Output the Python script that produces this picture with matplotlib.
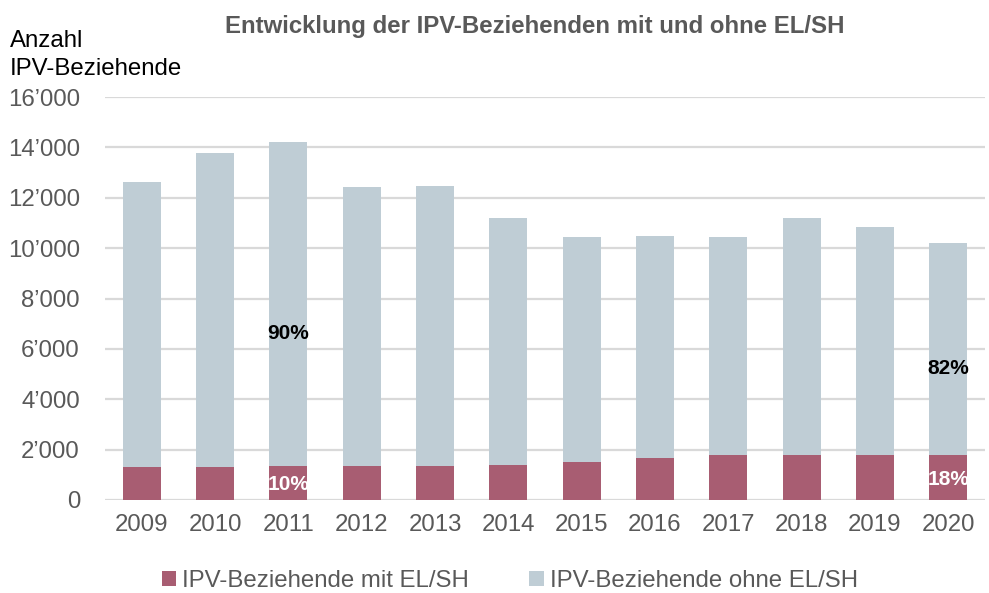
import matplotlib
matplotlib.use("Agg")
import matplotlib.pyplot as plt
from matplotlib.ticker import FuncFormatter
from matplotlib import font_manager

years = ["2009", "2010", "2011", "2012", "2013", "2014", "2015", "2016", "2017", "2018", "2019", "2020"]
mit_el = [1320, 1320, 1350, 1360, 1340, 1400, 1510, 1680, 1790, 1800, 1800, 1770]
total = [12620, 13790, 14210, 12430, 12470, 11190, 10440, 10490, 10430, 11180, 10840, 10210]
ohne_el = [t - m for t, m in zip(total, mit_el)]

pct_labels = [("2011", "10%", "90%"), ("2020", "18%", "82%")]

series_names = ["IPV-Beziehende mit EL/SH", "IPV-Beziehende ohne EL/SH"]
title = "Entwicklung der IPV-Beziehenden mit und ohne EL/SH"
ylabel = "Anzahl\nIPV-Beziehende"

c_red = "#A85D72"
c_grey = "#BFCDD5"
txt_grey = "#595959"

names = {f.name for f in font_manager.fontManager.ttflist}
base = "Liberation Sans" if "Liberation Sans" in names else "DejaVu Sans"
narrow = "Liberation Sans Narrow" if "Liberation Sans Narrow" in names else base
plt.rcParams["font.family"] = [base, "DejaVu Sans"]

fig = plt.figure(figsize=(9.89, 5.93), dpi=100)
ax = fig.add_axes([105 / 989, 93 / 593, 880 / 989, 403 / 593])

x = list(range(len(years)))
w = 0.52
ax.bar(x, mit_el, width=w, color=c_red, label=series_names[0], zorder=3)
ax.bar(x, ohne_el, width=w, bottom=mit_el, color=c_grey, label=series_names[1], zorder=3)

ax.set_xlim(-0.5, len(years) - 0.5)
ax.set_ylim(0, 16000)
ax.set_yticks(range(0, 16001, 2000))
ax.yaxis.set_major_formatter(FuncFormatter(lambda v, p: f"{int(v):,}".replace(",", "\u2019")))
ax.set_xticks(x)
ax.set_xticklabels(years)
ax.tick_params(axis="both", length=0, labelsize=17.3, colors=txt_grey)
ax.tick_params(axis="x", pad=10)
ax.tick_params(axis="y", pad=18)
ax.grid(axis="y", color="#D9D9D9", linewidth=1.6, zorder=0)
for s in ax.spines.values():
    s.set_visible(False)

for yr, lo, hi in pct_labels:
    i = years.index(yr)
    ax.text(i, mit_el[i] * 0.47, lo, ha="center", va="center", color="white",
            fontsize=15, fontweight="bold", family=narrow, zorder=4)
    ax.text(i, mit_el[i] + ohne_el[i] * 0.41, hi, ha="center", va="center",
            color="black", fontsize=15, fontweight="bold", family=narrow, zorder=4)

fig.text(535 / 989, 1 - 27 / 593, title, ha="center", va="center", fontsize=17.3,
         fontweight="bold", color=txt_grey)
fig.text(10 / 989, 1 - 55 / 593, ylabel, ha="left", va="center", fontsize=17.3,
         color="#000000", linespacing=1.3)

fig.legend(loc="center", bbox_to_anchor=(510 / 989, 1 - 581 / 593), ncol=2, frameon=False,
           fontsize=17.3, handlelength=0.6, handleheight=0.6, handletextpad=0.25,
           columnspacing=2.5, labelcolor=txt_grey)

fig.savefig("out.png", dpi=100)
